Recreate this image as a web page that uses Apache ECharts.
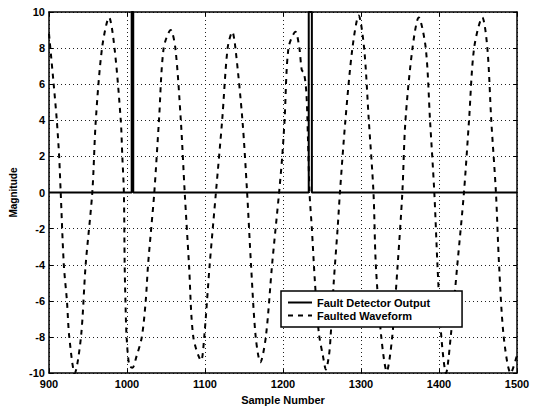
<!DOCTYPE html>
<html>
<head>
<meta charset="utf-8">
<script src="https://cdn.jsdelivr.net/npm/echarts@6/dist/echarts.min.js"></script>
<style>
html,body{margin:0;padding:0;background:#fff;}
#chart{width:536px;height:410px;}
</style>
</head>
<body>
<div id="chart"></div>
<script>
// Faulted waveform (sample number, magnitude)
const waveSamples = [900,906,910,913,915,919,923,926,933,941,947,955.5,960,968,977,984,992,994,996,997,998,999.5,1003,1007,1012,1019,1024,1027,1031,1035,1041,1047,1056,1062,1069,1074,1079.5,1085,1095,1099,1106,1114,1122,1129,1135,1139,1148,1154,1159,1165,1171,1178,1186,1195,1199,1202,1207,1216,1221,1224,1227,1230,1232,1234,1237,1241,1246,1251,1255,1259,1261,1265,1270,1273,1280,1289,1297,1304,1310,1316,1319,1326,1333,1340,1347,1353,1357,1366,1374,1383,1388.5,1394,1398,1403,1409,1415,1423.5,1432,1438.5,1445,1455.5,1462,1467,1473,1477,1483,1492,1500];
const waveValues  = [8.8,6,4,2,0,-4,-6,-8,-10,-8,-4,0,4,8,9.7,8,4,2,0,-4,-6,-8,-9.6,-9.7,-9.1,-8,-6,-4,-2,0,4,8,9.0,8,4,0,-4,-8,-9.3,-8,-4,0,4,8,8.9,8,4,0,-4,-8,-9.4,-8,-4,0,2,4,8,8.9,8,6.8,6.6,5.5,3,0,-2,-5,-7.8,-9,-9.8,-9,-8,-5,-2,0,4,8,9.8,8,4,0,-4,-8,-9.9,-8,-4,0,4,8,9.7,8,4,0,-4,-8,-10,-8,-4,0,4,8,9.7,8,4,0,-4,-8,-10,-9];
// Fault detector output (step pulses)
const detSamples = [900,1006,1006,1008,1008,1233,1233,1237,1237,1500];
const detValues  = [0,0,10,10,0,0,10,10,0,0];
const seriesNames = ['Fault Detector Output','Faulted Waveform'];
const xTitle = 'Sample Number';
const yTitle = 'Magnitude';

const wave = waveSamples.map((s,i)=>[s,waveValues[i]]);
const det = detSamples.map((s,i)=>[s,detValues[i]]);

const font = '"Liberation Sans", Arial, sans-serif';
const chart = echarts.init(document.getElementById('chart'), null, {renderer:'svg'});
const gridLine = {show:true, lineStyle:{color:'#222', type:[1,3], width:1}};
const axLine = {show:true, onZero:false, lineStyle:{color:'#000', width:1.5}};
const tick = {show:true, inside:true, length:4, lineStyle:{color:'#000', width:1}};
chart.setOption({
  animation:false,
  backgroundColor:'#fff',
  grid:{left:49, right:19, top:12, bottom:32, containLabel:false},
  legend:{
    orient:'vertical', left:281, top:291,
    backgroundColor:'#fff', borderColor:'#000', borderWidth:1.5, borderRadius:0,
    padding:[6,32,6,6], itemWidth:24, itemHeight:10, itemGap:2,
    itemStyle:{opacity:0},
    textStyle:{fontFamily:font, fontWeight:'bold', fontSize:11, color:'#000'},
    data:seriesNames
  },
  xAxis:[
    {type:'value', min:900, max:1500, interval:100, position:'bottom',
     axisLine:axLine, axisTick:tick, splitLine:gridLine,
     axisLabel:{fontFamily:font, fontWeight:'bold', fontSize:11, color:'#000', margin:5, formatter:v=>String(v)},
     name:xTitle, nameLocation:'middle', nameGap:19,
     nameTextStyle:{fontFamily:font, fontWeight:'bold', fontSize:11, color:'#000'}},
    {type:'value', min:900, max:1500, interval:100, position:'top',
     axisLine:axLine, axisTick:tick, splitLine:{show:false}, axisLabel:{show:false}}
  ],
  yAxis:[
    {type:'value', min:-10, max:10, interval:2, position:'left',
     axisLine:axLine, axisTick:tick, splitLine:gridLine,
     axisLabel:{fontFamily:font, fontWeight:'bold', fontSize:11, color:'#000', margin:4, formatter:v=>String(v)},
     name:yTitle, nameLocation:'middle', nameGap:30, nameRotate:90,
     nameTextStyle:{fontFamily:font, fontWeight:'bold', fontSize:10, color:'#000'}},
    {type:'value', min:-10, max:10, interval:2, position:'right',
     axisLine:axLine, axisTick:tick, splitLine:{show:false}, axisLabel:{show:false}}
  ],
  series:[
    {name:seriesNames[0], type:'line', data:det, xAxisIndex:0, yAxisIndex:0,
     symbol:'none', lineStyle:{color:'#000', width:2, type:'solid'}, itemStyle:{color:'#000'}, z:3, clip:true},
    {name:seriesNames[1], type:'line', data:wave, xAxisIndex:0, yAxisIndex:0,
     symbol:'none', smooth:0.3, lineStyle:{color:'#000', width:2, type:[5,5]}, itemStyle:{color:'#000'}, z:2, clip:true}
  ]
});
</script>
</body>
</html>
